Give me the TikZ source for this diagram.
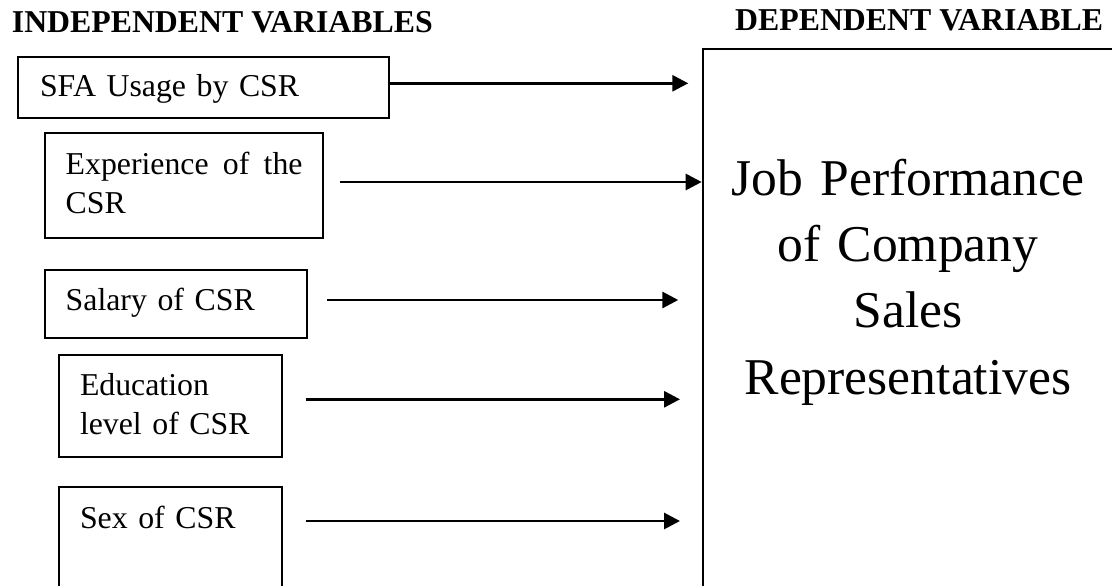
\documentclass[tikz,border=0pt]{standalone}
\usepackage{fontspec}
\setmainfont{Liberation Serif}
\usetikzlibrary{arrows.meta,calc}
\newcommand\cfbody{\fontsize{31.8}{39.3}\selectfont}
\newcommand\cfbig{\fontsize{51.6}{66.4}\selectfont}
\tikzset{
  cf-head/.style={font=\cfbody\bfseries, inner sep=0pt, anchor=base west},
  cf-var/.style={draw, line width=2pt, anchor=north west, inner ysep=0pt, outer sep=0pt,
    align=left, font=\cfbody,
    execute at begin node={\hyphenpenalty=10000\exhyphenpenalty=10000\relax}},
  cf-outcome/.style={draw, line width=2.4pt, anchor=north west, inner xsep=10pt, inner ysep=0pt,
    outer sep=0pt, align=center, font=\cfbig},
  cf-link/.style={-{Triangle[length=16pt,width=16pt]}, line width=2.9pt}
}
\begin{document}
\begin{tikzpicture}[x=1pt, y=-1pt]
  \useasboundingbox (0,0) rectangle (1112,586);
  \clip (0,0) rectangle (1112,586);

  % Headings
  \node[cf-head] (ivhead) at (11.7,32.3) {INDEPENDENT VARIABLES};
  \node[cf-head] (dvhead) at (735,30.7) {DEPENDENT VARIABLE};

  % Independent variables
  \node[cf-var, inner xsep=21.7pt, text width=327.6pt, text height=40pt, text depth=21.6pt]
    (sfa) at (18.3,56.7) {SFA Usage by CSR};
  \node[cf-var, align=justify, inner xsep=20.7pt, text width=236.9pt, text height=40.7pt, text depth=64.3pt]
    (exp) at (45,133.3) {Experience of the CSR};
  \node[cf-var, inner xsep=20.7pt, text width=220.3pt, text height=40.7pt, text depth=27.6pt]
    (sal) at (45,270) {Salary of CSR};
  \node[cf-var, inner xsep=21pt, text width=180.7pt, text height=40pt, text depth=62.3pt]
    (edu) at (59,355) {Education level of CSR};
  \node[cf-var, inner xsep=21pt, text width=180.7pt, text height=41.6pt, text depth=120pt]
    (sex) at (59,486.7) {Sex of CSR};

  % Dependent variable (runs past the page edge)
  \node[cf-outcome, text width=390pt, text height=146pt, text depth=405pt]
    (jp) at (703,49) {Job Performance\\of Company\\Sales\\Representatives};

  % Arrow tips
  \coordinate (t1) at (688.3,83.3);
  \coordinate (t2) at (701.7,182);
  \coordinate (t3) at (678.3,300);
  \coordinate (t4) at (680,399.3);
  \coordinate (t5) at (680,521);

  % Links
  \foreach \src/\gap/\tip in {sfa/0/t1, exp/16.7/t2, sal/20/t3, edu/24.3/t4, sex/24.3/t5} {
    \draw[cf-link] ($(\src.east |- \tip)+(\gap,0)$) -- (\tip);
  }
\end{tikzpicture}
\end{document}
